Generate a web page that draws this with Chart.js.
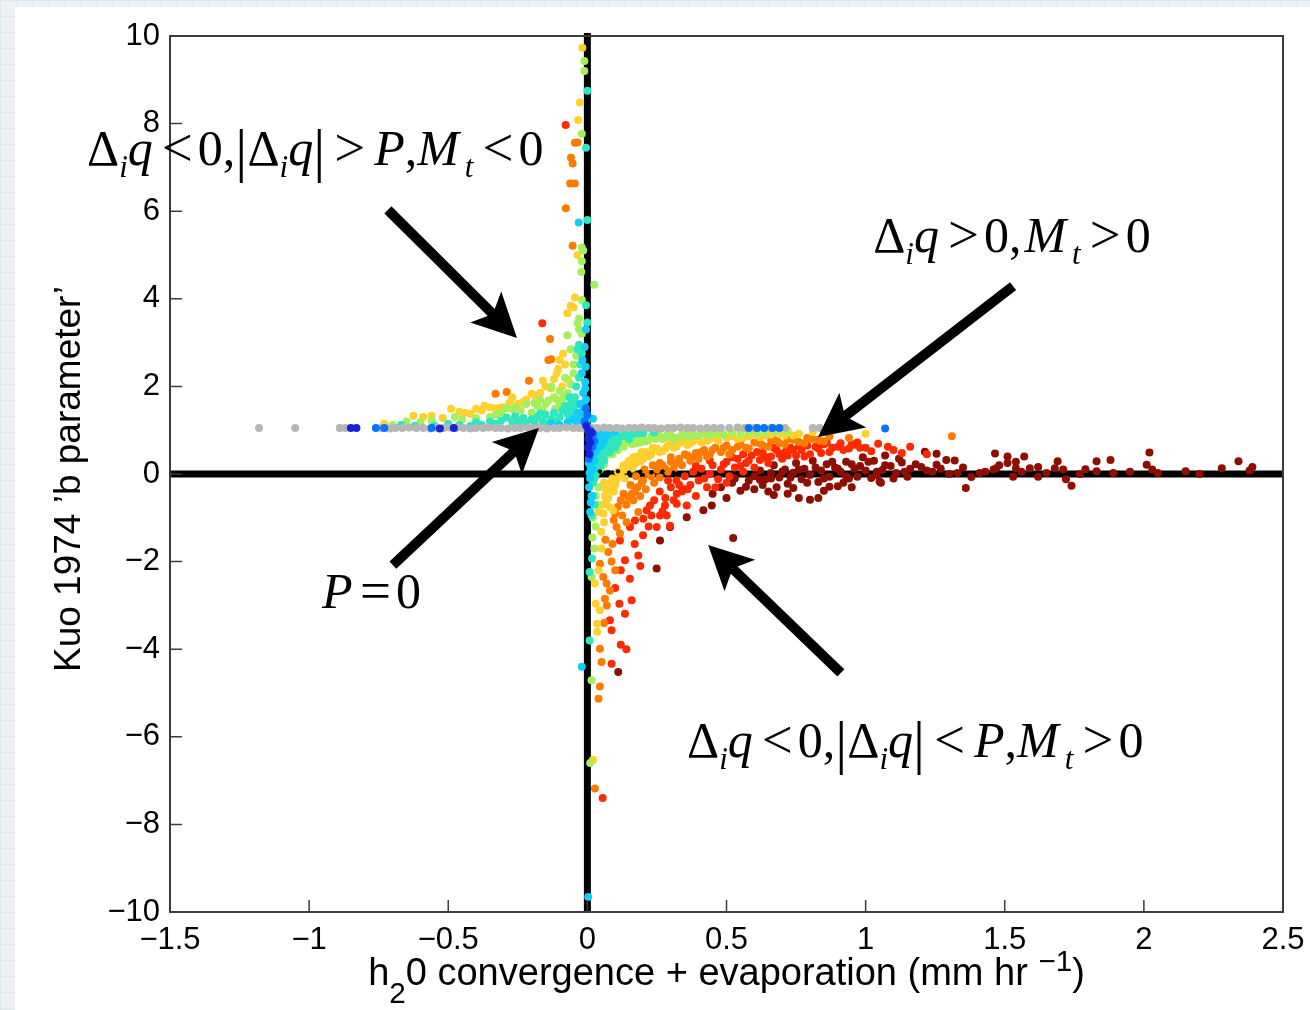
<!DOCTYPE html>
<html>
<head>
<meta charset="utf-8">
<script src="https://cdn.jsdelivr.net/npm/chart.js@4.4.1/dist/chart.umd.min.js"></script>
<style>
  body {
    margin: 0;
    width: 1310px;
    height: 1010px;
    overflow: hidden;
    background-color: #edf1f3;
    background-image: linear-gradient(#dde8ee 1px, transparent 1px), linear-gradient(90deg, #dde8ee 1px, transparent 1px);
    background-size: 16px 16px;
  }
  #panel { position: absolute; left: 15px; top: 7px; right: 0; bottom: 0; background: #fff; }
  #wrap { position: absolute; left: 0; top: 0; width: 1310px; height: 1010px; }
</style>
</head>
<body>
<div id="panel"></div>
<div id="wrap"><canvas id="kuoChart" width="1310" height="1010"></canvas></div>
<script>
// axis ticks
var xTicks = [-1.5, -1, -0.5, 0, 0.5, 1, 1.5, 2, 2.5];
var yTicks = [-10, -8, -6, -4, -2, 0, 2, 4, 6, 8, 10];

// points, grouped by colour (jet colour map)
var grayPts = [[-1.18,1.05],[-1.05,1.05],[-0.89,1.05],[-0.87,1.05],[-0.74,1.05],[-0.71,1.04],[-0.69,1.05],[-0.665,1.05],[-0.64,1.06],[-0.615,1.05],[-0.59,1.05],[-0.565,1.04],[-0.54,1.05],[-0.515,1.05],[-0.495,1.06],[-0.47,1.05],[-0.445,1.05],[-0.42,1.04],[-0.4,1.05],[-0.375,1.05],[-0.355,1.06],[-0.33,1.05],[-0.31,1.05],[-0.285,1.04],[-0.26,1.05],[-0.24,1.05],[-0.215,1.06],[-0.19,1.05],[-0.17,1.05],[-0.145,1.04],[-0.12,1.05],[-0.1,1.05],[-0.075,1.06],[-0.05,1.05],[-0.03,1.05],[-0.01,1.04],[0.015,1.05],[0.035,1.05],[0.06,1.06],[0.08,1.05],[0.105,1.05],[0.125,1.04],[0.15,1.05],[0.17,1.05],[0.195,1.06],[0.22,1.05],[0.24,1.05],[0.265,1.04],[0.29,1.05],[0.31,1.05],[0.335,1.06],[0.36,1.05],[0.38,1.05],[0.405,1.04],[0.43,1.05],[0.455,1.05],[0.48,1.05],[0.51,1.05],[0.54,1.06],[0.565,1.05],[0.6,1.05],[0.66,1.05],[0.71,1.05],[0.81,1.05],[0.835,1.05]];
var darkBluePts = [[-0.85,1.05],[-0.83,1.05],[-0.53,1.04],[-0.48,1.05],[0.003,0.98],[0.006,0.9],[0.004,0.8],[0.01,0.72],[0.002,0.6],[0.008,0.45],[-0.004,1.1],[0.015,0.95]];
var bluePts = [[-0.76,1.05],[-0.73,1.05],[-0.56,1.05],[0.58,1.05],[0.61,1.05],[0.635,1.05],[0.665,1.05],[0.69,1.05],[1.07,1.04],[0.01,1.0],[0.02,0.92],[0.012,0.82],[0.025,0.75],[0.005,0.35],[-0.01,1.2],[0.0,1.35],[-0.005,1.5],[0.018,0.62]];
var cyanPts = [[-0.031,5.74],[-0.005,3.3],[-0.01,2.9],[-0.02,2.3],[-0.008,2.1],[-0.015,1.85],[-0.005,1.7],[-0.025,1.6],[-0.01,1.5],[-0.035,1.4],[-0.015,1.32],[-0.05,1.25],[-0.003,1.2],[-0.03,1.15],[-0.07,1.18],[-0.1,1.12],[-0.13,1.15],[0.02,1.26],[0.01,0.95],[0.03,0.9],[0.022,0.82],[0.04,0.85],[0.05,0.9],[0.035,0.7],[0.015,0.55],[0.045,0.62],[0.03,0.5],[0.06,0.78],[0.07,0.88],[0.02,0.4],[0.025,0.3],[0.012,0.15],[0.008,0.02],[0.01,-0.1],[0.015,-0.5],[0.01,-0.87],[-0.02,-4.4],[0.003,-9.66],[0.08,0.95],[0.1,0.97],[0.018,0.65],
  [0.005,0.25],[0.015,0.45],[0.028,0.58],[0.038,0.78],[0.055,0.7],[0.065,0.92],[0.045,0.95],[0.025,0.97],[0.012,0.35],[0.02,0.1],[0.006,-0.3],[0.012,-0.65],[-0.012,1.62],[-0.02,1.42],[-0.028,1.28],[-0.04,1.2],[-0.008,1.95],[-0.018,2.6],[-0.006,2.45]];
var tealPts = [[0.0,8.75],[-0.005,7.45],[0.0,5.8],[-0.005,3.85],[0.0,3.46],[-0.03,2.95],[-0.035,2.85],[-0.29,1.29],[-0.27,1.2],[-0.25,1.22],[-0.22,1.18],[-0.2,1.25],[-0.18,1.3],[-0.16,1.2],[-0.15,1.35],[-0.13,1.25],[-0.12,1.4],[-0.1,1.3],[-0.09,1.45],[-0.08,1.55],[-0.07,1.35],[-0.06,1.6],[-0.05,1.5],[-0.045,1.75],[-0.04,2.0],[-0.03,2.2],[-0.06,1.25],[-0.33,1.15],[-0.38,1.12],[-0.42,1.1],[-0.46,1.12],[-0.55,1.1],[-0.62,1.1],[-0.67,1.12],[0.04,0.35],[0.05,0.45],[0.06,0.55],[0.07,0.62],[0.08,0.7],[0.09,0.75],[0.1,0.8],[0.12,0.85],[0.14,0.88],[0.05,0.2],[0.035,0.1],[0.06,0.3],[0.08,0.5],[0.1,0.6],[0.16,0.9],[0.2,0.93],[0.03,0.0],[0.02,-0.2],[0.025,-0.1],[0.015,-0.95],[0.017,-1.93],[0.008,-2.24],[0.008,-3.8],
  [0.045,0.5],[0.055,0.62],[0.065,0.48],[0.075,0.78],[0.085,0.63],[0.095,0.85],[0.11,0.72],[0.13,0.92],[0.15,0.8],[0.18,0.93],[0.24,0.95],[0.03,0.22],[0.04,0.15],[0.02,-0.5],[0.025,-0.7],[-0.11,1.2],[-0.14,1.15],[-0.17,1.38],[-0.19,1.17],[-0.23,1.28],[-0.24,1.15],[-0.26,1.32],[-0.31,1.22],[-0.35,1.2],[-0.4,1.18],[-0.5,1.15],[-0.04,1.3],[-0.055,1.4],[-0.075,1.5],[-0.065,1.75],[-0.035,1.6],[-0.025,2.5],[-0.02,2.75]];
var greenPts = [[-0.011,9.43],[-0.011,9.2],[-0.02,7.77],[-0.02,5.17],[-0.015,5.1],[-0.02,4.86],[-0.022,4.61],[0.025,4.32],[-0.02,3.97],[-0.03,3.55],[-0.035,3.45],[-0.03,3.3],[-0.02,3.2],[-0.072,3.17],[-0.06,2.85],[-0.13,2.0],[-0.1,1.9],[-0.07,1.85],[-0.12,1.75],[-0.09,1.65],[-0.14,1.68],[-0.116,1.49],[-0.22,1.6],[-0.29,1.5],[-0.27,1.48],[-0.26,1.52],[-0.476,1.3],[-0.56,1.22],[-0.18,1.55],[-0.16,1.45],[-0.08,2.2],[-0.05,2.5],[-0.04,2.7],[-0.2,1.4],[-0.35,1.3],[-0.4,1.28],[-0.7,1.12],[-0.65,1.2],[0.02,-1.0],[0.018,-1.45],[0.015,-2.35],[0.015,-4.71],[0.01,-6.6],[0.03,-0.5],[0.04,-0.3],[0.05,0.25],[0.06,0.4],[0.07,0.5],[0.08,0.55],[0.1,0.62],[0.12,0.7],[0.14,0.75],[0.17,0.78],[0.2,0.82],[0.23,0.85],[0.26,0.86],[0.3,0.88],[0.34,0.9],[0.38,0.9],[0.42,0.92],[0.47,0.93],[0.52,0.95],[0.58,0.95],[0.64,0.96],[0.72,0.98],[0.09,0.45],[0.11,0.55],[0.13,0.62],[0.16,0.68],[0.19,0.72],[0.22,0.77],[0.27,0.8],[0.32,0.83],[0.37,0.85],[0.045,0.1],[0.06,0.22],
  [0.055,0.33],[0.075,0.45],[0.085,0.62],[0.095,0.55],[0.105,0.72],[0.115,0.62],[0.125,0.78],[0.15,0.72],[0.155,0.82],[0.175,0.7],[0.185,0.85],[0.21,0.75],[0.245,0.8],[0.25,0.9],[0.28,0.84],[0.29,0.92],[0.31,0.8],[0.35,0.86],[0.36,0.93],[0.4,0.87],[0.44,0.88],[0.45,0.95],[0.49,0.9],[0.55,0.92],[0.61,0.93],[0.68,0.95],[0.035,-0.7],[0.03,-1.2],[0.025,-1.7],[-0.1,1.55],[-0.11,1.7],[-0.15,1.6],[-0.17,1.7],[-0.19,1.62],[-0.24,1.45],[-0.31,1.4],[-0.33,1.35],[-0.45,1.25],[-0.6,1.18],[-0.06,2.05],[-0.05,2.3],[-0.085,1.8]];
var yellowPts = [[-0.018,9.73],[-0.027,8.48],[-0.033,8.08],[-0.035,5.0],[-0.045,4.03],[-0.06,3.84],[-0.05,3.8],[-0.072,3.67],[-0.087,2.75],[-0.1,2.6],[-0.105,2.4],[-0.12,2.17],[-0.16,2.13],[-0.27,1.75],[-0.3,1.52],[-0.19,1.79],[-0.626,1.33],[-0.56,1.33],[-0.49,1.49],[-0.42,1.37],[-0.4,1.49],[-0.37,1.56],[-0.35,1.52],[-0.31,1.52],[-0.2,1.83],[-0.17,1.85],[-0.09,2.0],[-0.07,2.15],[-0.13,1.95],[-0.22,1.7],[-0.25,1.6],[-0.44,1.4],[-0.73,1.15],[-0.52,1.28],[0.04,-0.87],[0.057,-0.9],[0.05,-1.32],[0.027,-2.5],[0.03,-2.96],[0.045,-3.11],[0.035,-3.42],[0.035,-3.6],[0.02,-6.53],[0.063,-0.5],[0.069,-0.6],[0.081,-0.76],[0.093,-0.83],[0.08,-0.35],[0.09,-0.1],[0.1,-0.25],[0.11,0.05],[0.12,-0.05],[0.13,0.2],[0.14,0.1],[0.15,0.3],[0.17,0.22],[0.18,0.4],[0.2,0.35],[0.21,0.5],[0.23,0.45],[0.25,0.58],[0.27,0.52],[0.29,0.65],[0.31,0.6],[0.33,0.7],[0.36,0.66],[0.38,0.75],[0.41,0.72],[0.44,0.8],[0.47,0.76],[0.5,0.83],[0.54,0.8],[0.58,0.86],[0.62,0.84],[0.66,0.9],[0.71,0.88],[0.76,0.92],[0.81,0.96],[0.86,1.0],[1.0,0.92],[0.06,-0.2],[0.07,-0.45],
  [0.055,-0.7],[0.065,-0.35],[0.075,-0.55],[0.085,-0.2],[0.095,-0.4],[0.105,-0.12],[0.125,0.08],[0.135,-0.1],[0.145,0.25],[0.16,0.12],[0.165,0.38],[0.19,0.28],[0.195,0.5],[0.22,0.4],[0.235,0.6],[0.26,0.5],[0.28,0.58],[0.3,0.7],[0.32,0.62],[0.345,0.75],[0.37,0.7],[0.395,0.8],[0.43,0.76],[0.46,0.84],[0.52,0.86],[0.56,0.82],[0.6,0.9],[0.64,0.88],[0.69,0.92],[0.74,0.88],[0.05,-1.7],[0.04,-2.2],[0.06,-1.1],[-0.23,1.65],[-0.28,1.62],[-0.33,1.5],[-0.38,1.45],[-0.46,1.42],[-0.59,1.3],[-0.15,2.0],[-0.11,2.3],[-0.08,2.5]];
var orangePts = [[-0.045,7.56],[-0.035,7.57],[-0.059,7.22],[-0.053,7.09],[-0.062,6.63],[-0.045,6.63],[-0.077,6.07],[-0.053,5.21],[-0.134,3.08],[-0.14,2.6],[-0.13,2.62],[-0.21,2.13],[-0.29,1.87],[-0.33,1.83],[0.045,-2.05],[0.057,-2.35],[0.069,-2.5],[0.081,-2.66],[0.063,-2.85],[0.045,-3.99],[0.051,-4.29],[0.045,-4.85],[0.04,-5.13],[0.027,-7.18],[0.075,-1.78],[0.087,-2.0],[0.105,-1.21],[0.117,-1.36],[0.141,-1.1],[0.183,-0.87],[0.147,-0.53],[0.165,-0.6],[0.12,-0.6],[0.1,-0.9],[0.16,-0.45],[0.18,-0.3],[0.19,-0.5],[0.2,-0.15],[0.21,-0.35],[0.22,0.0],[0.24,-0.2],[0.25,0.1],[0.26,-0.08],[0.27,0.2],[0.29,0.05],[0.3,0.28],[0.31,0.12],[0.33,0.35],[0.34,0.2],[0.36,0.42],[0.37,0.3],[0.39,0.48],[0.4,0.35],[0.42,0.55],[0.44,0.45],[0.46,0.6],[0.48,0.5],[0.5,0.65],[0.52,0.55],[0.55,0.68],[0.57,0.6],[0.6,0.72],[0.63,0.65],[0.66,0.76],[0.69,0.7],[0.72,0.8],[0.76,0.73],[0.79,0.82],[0.83,0.78],[0.87,0.86],[0.94,0.82],[1.31,0.86],
  [0.09,-1.6],[0.095,-1.05],[0.11,-0.75],[0.125,-0.95],[0.13,-0.45],[0.14,-0.7],[0.155,-0.25],[0.17,-0.4],[0.175,-0.05],[0.195,-0.2],[0.205,0.1],[0.23,-0.05],[0.235,0.2],[0.26,0.25],[0.28,0.12],[0.3,0.38],[0.32,0.25],[0.35,0.45],[0.38,0.38],[0.41,0.5],[0.43,0.4],[0.45,0.55],[0.49,0.6],[0.51,0.45],[0.54,0.62],[0.58,0.58],[0.62,0.7],[0.65,0.62],[0.68,0.78],[0.71,0.68],[0.74,0.78],[0.78,0.7],[0.81,0.8],[0.85,0.75],[0.07,-3.0],[0.06,-3.4],[0.1,-2.2],[0.065,-1.5]];
var redPts = [[-0.078,7.97],[-0.162,3.44],[0.117,-1.52],[0.135,-1.97],[0.153,-2.39],[0.159,-2.88],[0.115,-2.96],[0.135,-3.19],[0.087,-3.57],[0.081,-3.34],[0.087,-4.33],[0.055,-7.4],[0.183,-1.86],[0.153,-1.21],[0.171,-1.06],[0.201,-1.02],[0.213,-0.83],[0.225,-0.72],[0.249,-1.21],[0.261,-0.95],[0.285,-0.95],[0.297,-1.18],[0.279,-0.72],[0.321,-0.45],[0.321,-0.68],[0.345,-0.34],[0.357,-0.72],[0.26,-0.4],[0.3,-0.3],[0.32,-0.15],[0.34,-0.4],[0.35,-0.05],[0.37,-0.25],[0.38,0.05],[0.4,-0.15],[0.41,0.12],[0.43,-0.3],[0.44,0.0],[0.45,0.2],[0.47,-0.12],[0.48,0.1],[0.5,0.28],[0.51,-0.05],[0.53,0.15],[0.54,0.35],[0.56,0.05],[0.57,0.25],[0.59,0.42],[0.6,0.15],[0.62,0.32],[0.63,0.48],[0.65,0.25],[0.66,0.4],[0.68,0.55],[0.7,0.35],[0.71,0.5],[0.73,0.6],[0.75,0.42],[0.77,0.55],[0.79,0.65],[0.8,0.45],[0.83,0.58],[0.85,0.68],[0.87,0.5],[0.9,0.62],[0.92,0.55],[0.95,0.68],[0.96,0.67],[0.98,0.6],[1.02,0.52],[1.045,0.69],[1.1,0.55],[1.16,0.62],[1.22,0.45],
  [0.2,-1.4],[0.22,-1.2],[0.23,-0.95],[0.24,-0.6],[0.27,-0.85],[0.28,-0.55],[0.29,-0.15],[0.31,-0.6],[0.33,-0.25],[0.36,-0.35],[0.39,-0.5],[0.39,0.18],[0.42,-0.1],[0.44,0.3],[0.46,-0.3],[0.49,0.22],[0.5,-0.2],[0.52,0.38],[0.55,0.18],[0.56,0.45],[0.58,0.3],[0.61,0.5],[0.64,0.38],[0.67,0.6],[0.69,0.45],[0.72,0.42],[0.74,0.55],[0.76,0.65],[0.78,0.4],[0.82,0.62],[0.84,0.48],[0.86,0.72],[0.88,0.6],[0.91,0.7],[0.94,0.58],[0.97,0.72],[1.0,0.6],[1.08,0.62],[1.13,0.48],[0.1,-2.6],[0.12,-2.2],[0.17,-1.6],[0.19,-2.1],[0.14,-4.0],[0.12,-3.9]];
var darkRedPts = [[0.111,-4.52],[0.249,-2.16],[0.261,-1.52],[0.297,-1.21],[0.357,-0.99],[0.417,-0.83],[0.447,-0.72],[0.524,-1.46],[0.52,-0.2],[0.57,-0.29],[0.62,-0.13],[0.65,-0.4],[0.67,-0.48],[0.74,-0.32],[0.8,-0.59],[0.83,-0.55],[0.87,-0.29],[0.92,-0.2],[1.05,-0.17],[0.6,-0.05],[0.62,0.08],[0.64,-0.12],[0.66,0.02],[0.67,0.2],[0.69,-0.08],[0.71,0.1],[0.72,-0.22],[0.74,0.03],[0.75,0.25],[0.77,-0.12],[0.78,0.12],[0.8,-0.02],[0.81,0.3],[0.83,-0.18],[0.84,0.08],[0.86,0.22],[0.87,-0.06],[0.89,0.15],[0.9,-0.28],[0.91,0.05],[0.93,0.28],[0.94,-0.1],[0.96,0.12],[0.97,-0.06],[0.99,0.38],[1.02,-0.09],[1.03,0.3],[1.04,0.05],[1.06,0.09],[1.055,-0.2],[1.07,0.42],[1.09,0.18],[1.11,0.02],[1.13,0.26],[1.15,-0.06],[1.16,0.12],[1.2,0.16],[1.213,0.51],[1.24,0.05],[1.255,0.46],[1.255,0.21],[1.29,0.32],[1.32,0.31],[1.33,0.02],[1.36,-0.32],[1.38,-0.07],[1.41,0.02],[1.465,0.47],[1.46,0.1],[1.47,0.13],[1.51,0.4],[1.51,0.25],[1.53,-0.06],[1.54,0.28],[1.54,0.13],[1.57,0.4],[1.59,0.13],[1.62,0.16],[1.62,-0.06],[1.68,0.13],[1.69,0.29],[1.71,0.1],[1.72,-0.12],[1.74,-0.27],[1.79,0.11],[1.83,0.29],[1.83,0.06],[1.88,0.32],[1.89,0.02],[2.02,0.49],[2.01,0.21],[2.03,0.1],[2.05,0.02],[2.15,0.06],[2.2,0.0],[2.28,0.13],[2.34,0.29],[2.38,0.08],[2.39,0.16],
  [0.45,-0.45],[0.48,-0.3],[0.5,-0.55],[0.53,-0.1],[0.55,-0.38],[0.58,-0.15],[0.6,-0.35],[0.63,-0.25],[0.66,-0.1],[0.68,-0.3],[0.7,0.05],[0.73,-0.08],[0.76,0.1],[0.79,-0.2],[0.82,0.15],[0.85,-0.1],[0.88,0.28],[0.9,0.12],[0.93,-0.05],[0.95,0.22],[0.98,0.18],[1.0,0.08],[1.01,0.28],[1.04,-0.02],[1.07,0.2],[1.1,-0.1],[1.12,0.35],[1.14,0.05],[1.18,0.22],[1.22,0.08],[1.27,0.12],[1.3,0.0],[1.35,0.15],[1.43,0.05],[1.48,0.2],[1.56,0.05],[1.65,0.02],[1.77,0.0],[1.95,0.05],[0.72,-0.45],[0.76,-0.55],[0.85,-0.38],[0.95,-0.3]];
var blackPts = [[0.045,0.06],[0.075,0.04],[0.11,0.06],[0.15,0.03],[0.19,0.05],[0.23,0.04],[0.27,0.06],[0.31,0.03]];

var SANS = '"Liberation Sans", Arial, Helvetica, sans-serif';
var SERIF = '"Liberation Serif", "Times New Roman", serif';

function toXY(pts) {
  return pts.map(function (p) { return { x: p[0], y: p[1] }; });
}

function fmt(v) {
  return String(Number(v.toFixed(1))).replace('-', '\u2212');
}

// pieces of the math annotations
function R(t) { return { t: t }; }
function I(t) { return { t: t, it: true }; }
function S(t) { return { t: t, it: true, sub: true }; }
function G(g) { return { gap: g }; }
function B() { return { t: '|', bar: true }; }
function O(t) { return { t: t, rel: true }; }

var notes = [
  { x: -1.798, y: 7.05, parts: [R('\u0394'), S('i'), I('q'), G(.18), O('<'), G(.1), R('0,'), B(), R('\u0394'), S('i'), I('q'), B(), G(.18), O('>'), G(.18), I('P'), R(','), I('M'), G(.12), S('t'), G(.18), O('<'), G(.1), R('0')] },
  { x: 1.027, y: 5.07, parts: [R('\u0394'), S('i'), I('q'), G(.18), O('>'), G(.1), R('0,'), G(.06), I('M'), G(.12), S('t'), G(.18), O('>'), G(.1), R('0')] },
  { x: -0.954, y: -3.06, parts: [I('P'), G(.15), O('='), G(.1), R('0')] },
  { x: 0.358, y: -6.46, parts: [R('\u0394'), S('i'), I('q'), G(.18), O('<'), G(.1), R('0,'), B(), R('\u0394'), S('i'), I('q'), B(), G(.18), O('<'), G(.18), I('P'), R(','), I('M'), G(.12), S('t'), G(.18), O('>'), G(.1), R('0')] }
];

// arrows: tail -> tip, in data units
var arrows = [
  [-0.717, 6.03, -0.253, 3.105],
  [1.53, 4.29, 0.829, 0.845],
  [-0.699, -2.08, -0.174, 1.05],
  [0.911, -4.54, 0.434, -1.62]
];

function drawMath(ctx, parts, x, y, size) {
  var cx = x;
  parts.forEach(function (p) {
    if (p.gap) { cx += p.gap * size; return; }
    var s = size, dy = 0;
    if (p.sub) { s = size * 0.62; dy = size * 0.24; }
    if (p.bar) { s = size * 1.2; dy = size * 0.1; }
    if (p.rel) { s = size * 1.1; dy = size * 0.02; }
    ctx.font = (p.it ? 'italic ' : '') + s + 'px ' + SERIF;
    ctx.fillText(p.t, cx, y + dy);
    cx += ctx.measureText(p.t).width;
  });
}

function drawArrow(ctx, x1, y1, x2, y2) {
  var dx = x2 - x1, dy = y2 - y1, len = Math.sqrt(dx * dx + dy * dy);
  var ux = dx / len, uy = dy / len, nx = -uy, ny = ux;
  var headLen = 44, half = 22, notch = 10;
  var bx = x2 - ux * headLen, by = y2 - uy * headLen;
  var mx = x2 - ux * (headLen - notch), my = y2 - uy * (headLen - notch);
  ctx.lineWidth = 10;
  ctx.beginPath();
  ctx.moveTo(x1, y1);
  ctx.lineTo(mx, my);
  ctx.stroke();
  ctx.beginPath();
  ctx.moveTo(x2, y2);
  ctx.lineTo(bx + nx * half, by + ny * half);
  ctx.lineTo(mx, my);
  ctx.lineTo(bx - nx * half, by - ny * half);
  ctx.closePath();
  ctx.fill();
}

var framePlugin = {
  id: 'frame',
  beforeDatasetsDraw: function (chart) {
    var ctx = chart.ctx, a = chart.chartArea;
    var x0 = chart.scales.x.getPixelForValue(0), y0 = chart.scales.y.getPixelForValue(0);
    ctx.save();
    ctx.strokeStyle = '#000';
    ctx.lineWidth = 7;
    ctx.beginPath();
    ctx.moveTo(x0, a.top - 3); ctx.lineTo(x0, a.bottom);
    ctx.moveTo(a.left, y0); ctx.lineTo(a.right, y0);
    ctx.stroke();
    ctx.restore();
  },
  afterDraw: function (chart) {
    var ctx = chart.ctx, a = chart.chartArea, sx = chart.scales.x, sy = chart.scales.y;
    ctx.save();
    // box and inward ticks
    ctx.strokeStyle = '#3c3c3c';
    ctx.lineWidth = 2;
    ctx.strokeRect(a.left, a.top, a.right - a.left, a.bottom - a.top);
    ctx.lineWidth = 1.5;
    ctx.beginPath();
    yTicks.forEach(function (v) {
      var p = sy.getPixelForValue(v);
      ctx.moveTo(a.left, p); ctx.lineTo(a.left + 12, p);
    });
    xTicks.forEach(function (v) {
      var p = sx.getPixelForValue(v);
      ctx.moveTo(p, a.bottom); ctx.lineTo(p, a.bottom - 12);
    });
    ctx.stroke();

    ctx.fillStyle = '#000';
    ctx.strokeStyle = '#000';
    // arrows
    arrows.forEach(function (r) {
      drawArrow(ctx, sx.getPixelForValue(r[0]), sy.getPixelForValue(r[1]), sx.getPixelForValue(r[2]), sy.getPixelForValue(r[3]));
    });
    // annotations
    ctx.textBaseline = 'alphabetic';
    ctx.textAlign = 'left';
    notes.forEach(function (n) {
      drawMath(ctx, n.parts, sx.getPixelForValue(n.x), sy.getPixelForValue(n.y), 50);
    });

    // x title with sub/superscripts
    var size = 38;
    var xParts = [{ t: 'h' }, { t: '2', sub: true }, { t: '0 convergence + evaporation (mm hr ' }, { t: '\u22121', sup: true }, { t: ')' }];
    var total = 0;
    xParts.forEach(function (p) {
      ctx.font = ((p.sub || p.sup) ? size * 0.78 : size) + 'px ' + SANS;
      p.w = ctx.measureText(p.t).width;
      total += p.w;
    });
    var cx = (a.left + a.right) / 2 - total / 2, base = a.bottom + 73;
    xParts.forEach(function (p) {
      ctx.font = ((p.sub || p.sup) ? size * 0.78 : size) + 'px ' + SANS;
      var dy = p.sub ? 18 : (p.sup ? -14 : 0);
      ctx.fillText(p.t, cx, base + dy);
      cx += p.w;
    });

    // y title
    ctx.translate(80, (a.top + a.bottom) / 2 + 5);
    ctx.rotate(-Math.PI / 2);
    ctx.textAlign = 'center';
    ctx.font = '37px ' + SANS;
    ctx.fillText('Kuo 1974 \u2019b parameter\u2019', 0, 0);
    ctx.restore();
  }
};

function dotSet(label, pts, color, r) {
  return {
    label: label,
    data: toXY(pts),
    backgroundColor: color,
    borderWidth: 0,
    pointRadius: r || 4,
    pointHoverRadius: r || 4
  };
}

var ctx = document.getElementById('kuoChart');
var myChart = new Chart(ctx, {
  type: 'scatter',
  data: {
    datasets: [
      dotSet('black', blackPts, '#000000', 2.2),
      dotSet('dark blue', darkBluePts, '#1a22d6'),
      dotSet('blue', bluePts, '#0a72ff'),
      dotSet('P = 0', grayPts, '#b6b6b6'),
      dotSet('cyan', cyanPts, '#12cdf8'),
      dotSet('teal', tealPts, '#2fe6bf'),
      dotSet('green', greenPts, '#a6ee5c'),
      dotSet('yellow', yellowPts, '#ffd12e'),
      dotSet('orange', orangePts, '#ff7b00'),
      dotSet('red', redPts, '#ff2a00'),
      dotSet('dark red', darkRedPts, '#8e0e00')
    ]
  },
  options: {
    responsive: false,
    animation: false,
    layout: { padding: { top: 36, right: 27, left: 0, bottom: 0 } },
    plugins: {
      legend: { display: false },
      tooltip: { enabled: false }
    },
    scales: {
      x: {
        type: 'linear',
        min: -1.5,
        max: 2.5,
        afterBuildTicks: function (scale) { scale.ticks = xTicks.map(function (v) { return { value: v }; }); },
        afterFit: function (scale) {
          scale.height = 98;
          scale.paddingLeft = 0;
          scale.paddingRight = 0;
        },
        grid: { display: false, drawTicks: false },
        border: { display: false },
        ticks: {
          padding: 10,
          color: '#000',
          font: { family: SANS, size: 31 },
          callback: function (v) { return fmt(v); }
        }
      },
      y: {
        type: 'linear',
        min: -10,
        max: 10,
        afterBuildTicks: function (scale) { scale.ticks = yTicks.map(function (v) { return { value: v }; }); },
        afterFit: function (scale) {
          scale.width = 170;
          scale.paddingTop = 0;
          scale.paddingBottom = 0;
        },
        grid: { display: false, drawTicks: false },
        border: { display: false },
        ticks: {
          padding: 10,
          color: '#000',
          font: { family: SANS, size: 31 },
          callback: function (v) { return fmt(v); }
        }
      }
    }
  },
  plugins: [framePlugin]
});
</script>
</body>
</html>
